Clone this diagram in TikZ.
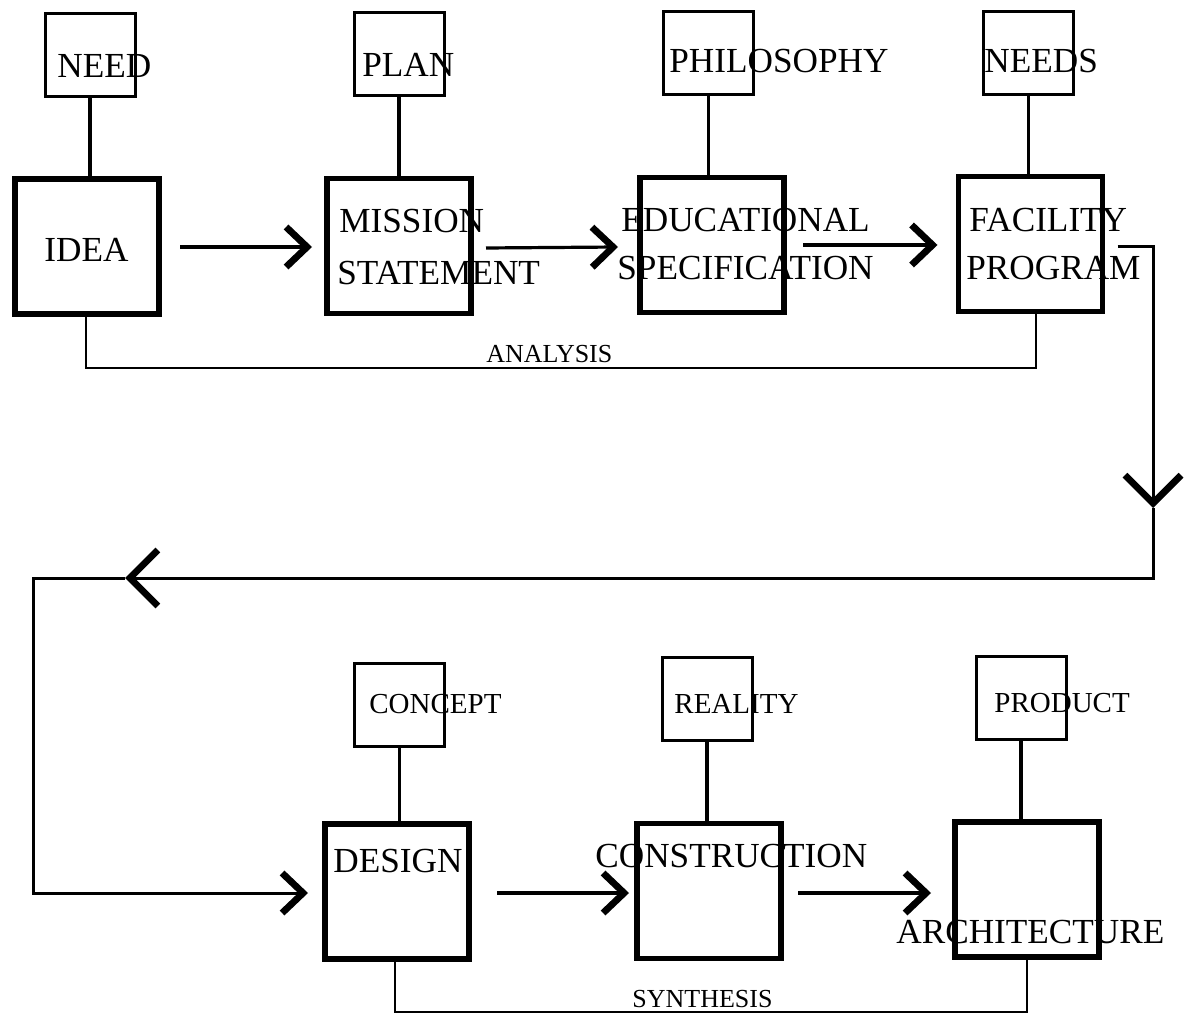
\documentclass[tikz,border=0pt]{standalone}
\usepackage{fontspec}
\setmainfont{Liberation Serif}
\usetikzlibrary{arrows.meta,calc}
\begin{document}
\begin{tikzpicture}[x=0.5pt,y=-0.5pt,
  stage/.style={draw, line width=2.6pt, minimum width=72pt, minimum height=67.5pt, inner sep=0pt, outer sep=0pt},
  tag/.style={draw, line width=1.5pt, minimum width=45pt, minimum height=41.5pt, inner sep=0pt, outer sep=0pt},
  big/.style={anchor=base west, inner sep=0pt, font=\fontsize{17.6}{20}\selectfont},
  mid/.style={anchor=base west, inner sep=0pt, font=\fontsize{14.5}{17}\selectfont},
  small/.style={anchor=base west, inner sep=0pt, font=\fontsize{13}{15}\selectfont},
  stem/.style={line width=1.6pt},
  base/.style={line width=1.3pt},
  flow/.style={line width=1.6pt, -{Straight Barb[length=10.5pt, width=20pt, line width=3.4pt]}},
  loop/.style={line width=1.5pt, -{Straight Barb[length=14pt, width=28pt, line width=3.4pt]}}
]
\useasboundingbox[fill=white] (0,0) rectangle (1193,1015);

% ---- analysis row: stage boxes
\node[stage] (idea)    at (87,246.5)   {};
\node[stage] (mission) at (399,246)    {};
\node[stage] (edu)     at (712,245)    {};
\node[stage] (fac)     at (1030.5,244) {};
% ---- analysis row: driver boxes
\node[tag] (need)  at (90,55)      {};
\node[tag] (plan)  at (399,54)     {};
\node[tag] (philo) at (708.5,53.5) {};
\node[tag] (needs) at (1028.5,53.5){};

% ---- synthesis row: stage boxes
\node[stage] (design) at (397,891.5) {};
\node[stage] (cons)   at (709,891)   {};
\node[stage] (arch)   at (1027,889.5){};
% ---- synthesis row: driver boxes
\node[tag] (concept) at (399.5,704.5) {};
\node[tag] (reality) at (707,699)     {};
\node[tag] (product) at (1021,697.5)  {};

% ---- stems from driver boxes down into the stages
\foreach \t/\s in {need/idea, plan/mission, philo/edu, needs/fac, concept/design, reality/cons, product/arch}
  \draw[stem] (\t.south) -- (\t.south |- \s.north);

% ---- labels
\node[big] (tneed)  at (57,78)   {NEED};
\node[big] (tplan)  at (362,77)  {PLAN};
\node[big] (tphilo) at (669,73)  {PHILOSOPHY};
\node[big] (tneeds) at (984,73)  {NEEDS};
\node[big] (tidea)  at (44,262)  {IDEA};
\node[big] (tmis1)  at (339,233) {MISSION};
\node[big] (tmis2)  at (337,285) {STATEMENT};
\node[big] (tedu1)  at (621,232) {EDUCATIONAL};
\node[big] (tedu2)  at (617,280) {SPECIFICATION};
\node[big] (tfac1)  at (969,232) {FACILITY};
\node[big] (tfac2)  at (966,280) {PROGRAM};
\node[mid] (tconcept) at (369,713) {CONCEPT};
\node[mid] (treality) at (674,713) {REALITY};
\node[mid] (tproduct) at (994,712) {PRODUCT};
\node[big] (tdesign) at (333,872) {DESIGN};
\node[big] (tcons)   at (595,867) {CONSTRUCTION};
\node[big] (tarch)   at (896,943) {ARCHITECTURE};
\node[small] (tanalysis)  at (486,363)  {ANALYSIS};
\node[small] (tsynthesis) at (632,1007) {SYNTHESIS};

% ---- flow arrows between stages
\draw[flow] ($(idea.east)+(21,0.5)$)    -- ($(mission.west)+(-15,1)$);
\draw[flow] ($(mission.east)+(15,2)$)   -- ($(edu.west)+(-22,2)$);
\draw[flow] ($(edu.east)+(19,0)$)       -- ($(fac.west)+(-21,1)$);
\draw[flow] ($(design.east)+(28,1.5)$)  -- ($(cons.west)+(-8,2)$);
\draw[flow] ($(cons.east)+(17,2)$)      -- ($(arch.west)+(-24,3.5)$);

% ---- bracket lines under each row
\coordinate (abase) at (0,368);
\draw[base] ($(idea.south)+(-1,0)$) -- ($(idea.south |- abase)+(-1,0)$) -| ($(fac.south)+(5.5,0)$);
\coordinate (sbase) at (0,1012);
\draw[base] ($(design.south)+(-2,0)$) -- ($(design.south |- sbase)+(-2,0)$) -| (arch.south);

% ---- return loop from the program to the design stage
\coordinate (r0) at ($(fac.east)+(15,3)$);
\coordinate (r1) at (1153,508);
\coordinate (r2) at (125,578);
\draw[loop] (r0) -| (r1);
\draw[loop] (r1) |- (r2);
\draw[flow, line width=1.5pt] (r2) -- (33,578) |- ($(design.west)+(-17,1.5)$);
\end{tikzpicture}
\end{document}
